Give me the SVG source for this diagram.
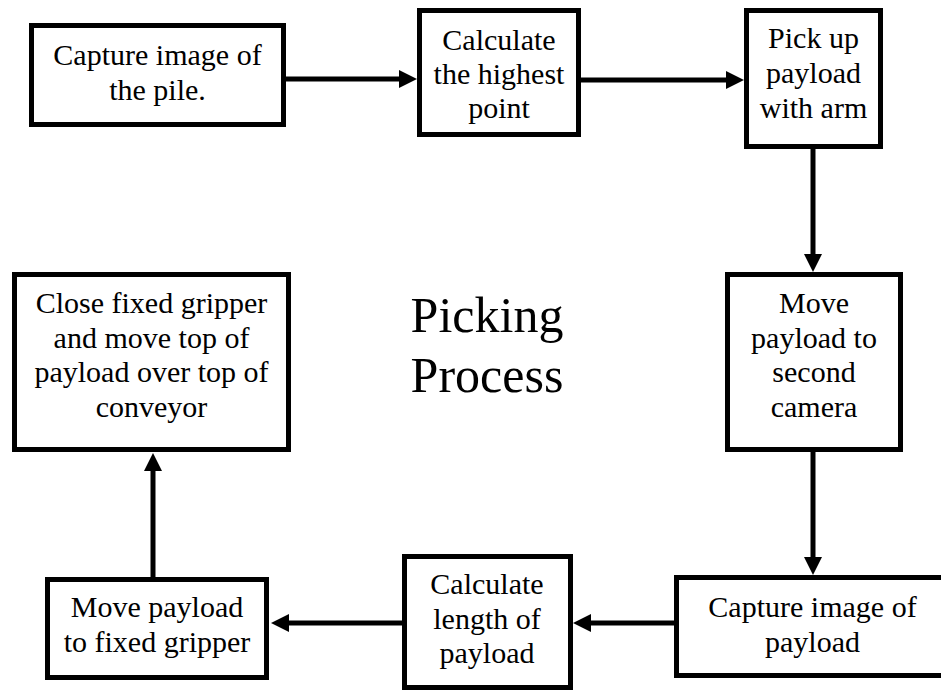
<svg xmlns="http://www.w3.org/2000/svg" width="941" height="692" viewBox="0 0 941 692">
<style>
.box{fill:#fff;stroke:#000;stroke-width:5}
text{font-family:'Liberation Serif','Times New Roman',Times,serif;fill:#000;text-anchor:middle}
.t{font-size:30px}
.big{font-size:50px}
.c{stroke:#000;stroke-width:5;fill:none;marker-end:url(#ah)}
</style>
<defs>
<marker id="ah" markerUnits="userSpaceOnUse" viewBox="0 0 18 18" refX="5" refY="9" markerWidth="18" markerHeight="18" orient="auto">
<path d="M0,0 L18,9 L0,18 z" fill="#000"/>
</marker>
</defs>
<rect width="941" height="692" fill="#fff"/>
<g id="connectors">
<line class="c" x1="286" y1="79" x2="404" y2="79"/>
<line class="c" x1="581" y1="80" x2="731" y2="80"/>
<line class="c" x1="813" y1="149" x2="813" y2="259"/>
<line class="c" x1="813" y1="452" x2="813" y2="562"/>
<line class="c" x1="674" y1="623" x2="586" y2="623"/>
<line class="c" x1="402" y1="623" x2="284" y2="623"/>
<line class="c" x1="153" y1="577" x2="153" y2="466"/>
</g>
<g id="n1">
<rect class="box" x="31.5" y="25.5" width="252" height="99"/>
<text class="t" x="157.5" y="65">Capture image of</text>
<text class="t" x="157.5" y="100">the pile.</text>
</g>
<g id="n2">
<rect class="box" x="419.5" y="10.5" width="159" height="124"/>
<text class="t" x="499" y="50">Calculate</text>
<text class="t" x="499" y="84">the highest</text>
<text class="t" x="499" y="118">point</text>
</g>
<g id="n3">
<rect class="box" x="746.5" y="10.5" width="134" height="136"/>
<text class="t" x="813.5" y="48">Pick up</text>
<text class="t" x="813.5" y="83">payload</text>
<text class="t" x="813.5" y="118">with arm</text>
</g>
<g id="n4">
<rect class="box" x="727.5" y="274.5" width="173" height="175"/>
<text class="t" x="814" y="313">Move</text>
<text class="t" x="814" y="347.5">payload to</text>
<text class="t" x="814" y="382">second</text>
<text class="t" x="814" y="416.5">camera</text>
</g>
<g id="n5">
<rect class="box" x="676.5" y="577.5" width="300" height="98"/>
<text class="t" x="812.5" y="617">Capture image of</text>
<text class="t" x="812.5" y="652">payload</text>
</g>
<g id="n6">
<rect class="box" x="404.5" y="556.5" width="166" height="131"/>
<text class="t" x="487" y="594">Calculate</text>
<text class="t" x="487" y="628.5">length of</text>
<text class="t" x="487" y="663">payload</text>
</g>
<g id="n7">
<rect class="box" x="47.5" y="579.5" width="219" height="98"/>
<text class="t" x="157" y="617">Move payload</text>
<text class="t" x="157" y="652">to fixed gripper</text>
</g>
<g id="n8">
<rect class="box" x="14.5" y="274.5" width="274" height="175"/>
<text class="t" x="151.5" y="313">Close fixed gripper</text>
<text class="t" x="151.5" y="347.5">and move top of</text>
<text class="t" x="151.5" y="382">payload over top of</text>
<text class="t" x="151.5" y="416.5">conveyor</text>
</g>
<g id="title">
<text class="big" x="487" y="332">Picking</text>
<text class="big" x="487" y="392">Process</text>
</g>
</svg>
